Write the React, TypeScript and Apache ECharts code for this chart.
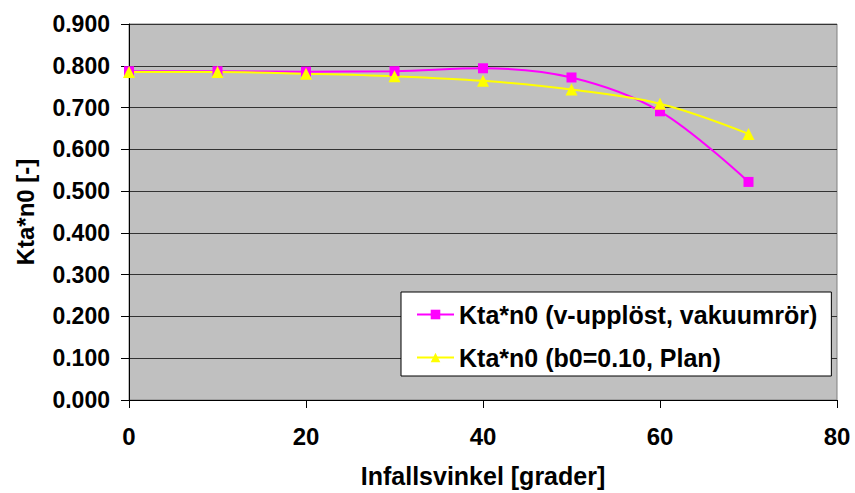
import React, { useEffect, useRef } from "react";
import * as echarts from "echarts";

const angles = [0, 10, 20, 30, 40, 50, 60, 70];
const vakuumror = [0.787, 0.787, 0.786, 0.787, 0.794, 0.772, 0.691, 0.522];
const plan = [0.785, 0.785, 0.781, 0.775, 0.764, 0.743, 0.709, 0.637];
const seriesNames = ["Kta*n0 (v-upplöst, vakuumrör)", "Kta*n0 (b0=0.10, Plan)"];
const xTitle = "Infallsvinkel [grader]";
const yTitle = "Kta*n0 [-]";

const FONT = "'Liberation Sans', Arial, sans-serif";

export default function App() {
  const ref = useRef<HTMLDivElement>(null);
  useEffect(() => {
    const chart = echarts.init(ref.current!, null, { renderer: "svg" });
    chart.setOption({
      animation: false,
      backgroundColor: "#ffffff",
      textStyle: { fontFamily: FONT },
      grid: {
        left: 129,
        right: 18,
        top: 24,
        bottom: 91,
        show: true,
        backgroundColor: "#c0c0c0",
        borderColor: "#808080",
        borderWidth: 1,
      },
      xAxis: {
        type: "value",
        min: 0,
        max: 80,
        interval: 20,
        name: xTitle,
        nameLocation: "middle",
        nameGap: 63,
        nameTextStyle: { fontFamily: FONT, fontWeight: "bold", fontSize: 25, color: "#000" },
        axisLine: { show: true, onZero: false, lineStyle: { color: "#000", width: 1 } },
        axisTick: { show: true, length: 8, lineStyle: { color: "#000" } },
        axisLabel: { margin: 24, fontFamily: FONT, fontWeight: "bold", fontSize: 24, color: "#000" },
        splitLine: { show: false },
      },
      yAxis: {
        type: "value",
        min: 0,
        max: 0.9,
        interval: 0.1,
        name: yTitle,
        nameLocation: "middle",
        nameGap: 92,
        nameTextStyle: { fontFamily: FONT, fontWeight: "bold", fontSize: 24, color: "#000" },
        axisLine: { show: true, lineStyle: { color: "#000", width: 1 } },
        axisTick: { show: true, length: 8, lineStyle: { color: "#000" } },
        axisLabel: {
          margin: 19,
          fontFamily: FONT,
          fontWeight: "bold",
          fontSize: 23,
          color: "#000",
          formatter: (v: number) => v.toFixed(3),
        },
        splitLine: { show: true, lineStyle: { color: "#333333", width: 1 } },
      },
      legend: {
        orient: "vertical",
        left: 401,
        top: 292,
        padding: [10, 14, 6, 15],
        itemGap: 18,
        itemWidth: 37,
        itemHeight: 12,
        backgroundColor: "#ffffff",
        borderColor: "#000000",
        borderWidth: 1,
        borderRadius: 0,
        textStyle: { fontFamily: FONT, fontWeight: "bold", fontSize: 25, color: "#000" },
        data: seriesNames,
      },
      series: [
        {
          name: seriesNames[0],
          type: "line",
          smooth: 0.35,
          data: angles.map((a, i) => [a, vakuumror[i]]),
          symbol: "rect",
          symbolSize: 10,
          lineStyle: { color: "#ff00ff", width: 2 },
          itemStyle: { color: "#ff00ff" },
        },
        {
          name: seriesNames[1],
          type: "line",
          smooth: 0.35,
          data: angles.map((a, i) => [a, plan[i]]),
          symbol: "triangle",
          symbolSize: 12,
          lineStyle: { color: "#ffff00", width: 2 },
          itemStyle: { color: "#ffff00" },
        },
      ],
    });
    return () => chart.dispose();
  }, []);
  return (
    <div
      ref={ref}
      style={{ position: "absolute", left: 0, top: 0, width: 855, height: 493 }}
    />
  );
}
